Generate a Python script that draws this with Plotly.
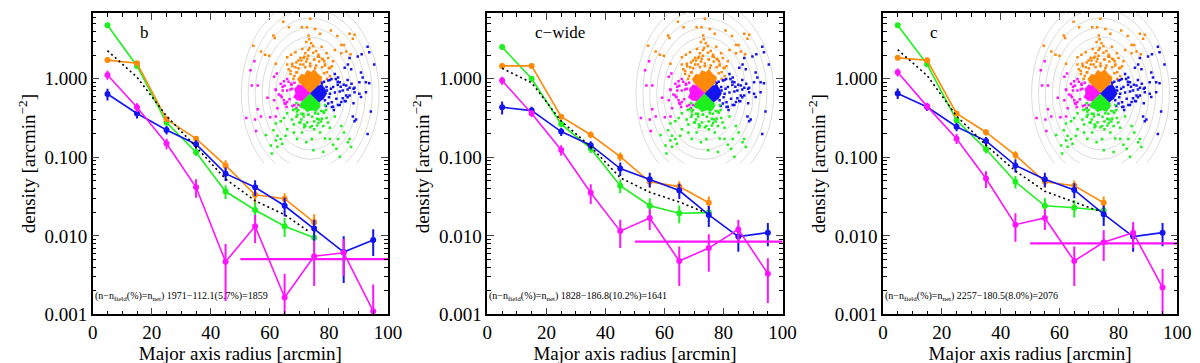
import plotly.graph_objects as go

# radial bins (major axis radius, arcmin)
radius = [5, 15, 25, 35, 45, 55, 65, 75, 85, 95]
radius_short = [5, 15, 25, 35, 45, 55, 65, 75]
radius_dotted = [5, 15, 25, 35, 45, 55, 65, 73]

panel_labels = ["b", "c\u2212wide", "c"]
count_texts = [
    "(n\u2212n<sub>field</sub>(%)=n<sub>net</sub>) 1971\u2212112.1(5.7%)=1859",
    "(n\u2212n<sub>field</sub>(%)=n<sub>net</sub>) 1828\u2212186.8(10.2%)=1641",
    "(n\u2212n<sub>field</sub>(%)=n<sub>net</sub>) 2257\u2212180.5(8.0%)=2076",
]

# panel b
b_green = [4.8, 1.46, 0.277, 0.116, 0.0367, 0.0214, 0.0133, 0.0095]
b_green_err = [0.19, 0.073, 0.022, 0.012, 0.0073, 0.0058, 0.0036, 0.0032]
b_orange = [1.73, 1.58, 0.305, 0.173, 0.079, 0.0334, 0.0298, 0.0149]
b_orange_err = [0.12, 0.08, 0.018, 0.014, 0.013, 0.0067, 0.005, 0.004]
b_blue = [0.64, 0.362, 0.223, 0.147, 0.062, 0.0416, 0.0242, 0.0124, 0.00622, 0.00884]
b_blue_err = [0.11, 0.05, 0.027, 0.018, 0.012, 0.0095, 0.0065, 0.0037, 0.0037, 0.0033]
b_magenta = [1.12, 0.434, 0.150, 0.0416, 0.00468, 0.0133, 0.00164, 0.0055, 0.0061, 0.0011]
b_magenta_err = [0.15, 0.055, 0.023, 0.011, 0.0032, 0.0052, 0.00165, 0.0032, 0.003, 0.0013]
b_mean = [2.28, 1.05, 0.336, 0.136, 0.053, 0.028, 0.0186, 0.0115]
b_field = 0.00505

# panel c-wide
cw_green = [2.54, 1.0, 0.265, 0.13, 0.0436, 0.0242, 0.0194, 0.0198]
cw_green_err = [0.13, 0.06, 0.021, 0.016, 0.0087, 0.006, 0.0049, 0.005]
cw_orange = [1.46, 1.46, 0.33, 0.194, 0.102, 0.0489, 0.0424, 0.0264]
cw_orange_err = [0.12, 0.073, 0.023, 0.019, 0.013, 0.0083, 0.0072, 0.0053]
cw_blue = [0.434, 0.394, 0.213, 0.143, 0.072, 0.0527, 0.0378, 0.0185, 0.0098, 0.011]
cw_blue_err = [0.082, 0.047, 0.026, 0.017, 0.014, 0.011, 0.0083, 0.0055, 0.0035, 0.0036]
cw_magenta = [0.95, 0.362, 0.124, 0.0354, 0.0115, 0.0169, 0.0048, 0.0070, 0.0121, 0.0033]
cw_magenta_err = [0.11, 0.036, 0.019, 0.010, 0.0045, 0.005, 0.0025, 0.0035, 0.004, 0.0019]
cw_mean = [1.36, 0.89, 0.29, 0.137, 0.055, 0.036, 0.027, 0.0204]
cw_field = 0.00843

# panel c
c_green = [4.8, 1.53, 0.297, 0.127, 0.0489, 0.0242, 0.0228, 0.021]
c_green_err = [0.19, 0.077, 0.024, 0.015, 0.0088, 0.006, 0.0057, 0.0052]
c_orange = [1.85, 1.72, 0.362, 0.209, 0.107, 0.0489, 0.0436, 0.0264]
c_orange_err = [0.1, 0.08, 0.025, 0.019, 0.013, 0.008, 0.0072, 0.0053]
c_blue = [0.652, 0.438, 0.245, 0.162, 0.079, 0.0527, 0.0385, 0.0189, 0.0098, 0.011]
c_blue_err = [0.1, 0.05, 0.03, 0.02, 0.015, 0.011, 0.0083, 0.0055, 0.0035, 0.0036]
c_magenta = [1.21, 0.446, 0.173, 0.0537, 0.0139, 0.0169, 0.0048, 0.0083, 0.011, 0.0022]
c_magenta_err = [0.14, 0.05, 0.025, 0.013, 0.0055, 0.005, 0.0025, 0.0035, 0.004, 0.0016]
c_mean = [2.35, 1.1, 0.336, 0.143, 0.067, 0.037, 0.027, 0.021]
c_field = 0.00804

# inset sky map (offsets from cluster centre, same map used in every panel)
orange_x = [-27.4, -21.7, -37.4, -36, -57.7, -50, -45.7, -41.7, -35, -23.4, -19.4, -15, -18.4,
            -3.4, -8.4, -1.7, -4, -0.7, -23.4, -20, -13.4, -10, -6.7, -5,
            0, 5, 10, 21, 27.6, 31.6, 34.3, 40, 45, 43.3, 36.6, 41, 31.6, 25, 16.6, 18.3,
            11.6, 8.3, 14.3, 23.3, 20, -1, 1, 3, -2, 6, -8, 9, 12, -12, 4, -4, 15, -15, 22, -22,
            -18, -14, -9, -3, 4, 9, 15, 19, -20, 20, -16, 17, -7, 6, -12, 12, 0, -2, 3, -6, 8,
            -10, 13, -14, 14, -5, 5, 0, -17, 17]
orange_y = [74, 68.3, 60, 57.3, 49.3, 43.3, 40, 39, 30.7, 37.3, 40, 42.6, 30.7,
            68.3, 68.3, 60, 53.3, 46.6, 30, 23.3, 21.6, 30, 36.6, 41.6,
            77.3, 66.6, 61.6, 65, 59.3, 50, 50, 61.6, 60.6, 56.6, 43.3, 40.6, 41.6, 45, 41.6, 36.6,
            48.3, 40, 33.3, 33.3, 26.6, 56, 52, 49, 45, 44, 46, 38, 36, 34, 35, 33, 29, 27, 28, 25,
            28, 32, 34, 36, 35, 33, 30, 26, 20, 18, 18, 22, 30, 29, 26, 27, 31, 39, 42, 38, 38,
            37, 35, 22, 21, 27, 26, 28, 15, 15]
blue_x = [58.3, 60, 52.3, 65, 48.3, 40, 38.3, 35, 41.6, 51.6, 53.3, 50, 56.6, 60, 25, 28.3, 30,
          36.6, 40, 21.6, 18.3, 16.6, 11.6, 23.3, 45, 50, 56.6, 51.6, 36.6, 31.6, 28.3, 23.3,
          35, 43.3, 45, 46.6, 61.6, 58.3, 18.3, 15, 26.6, 20, 33, 38, 28, 12, 44, 30, 22, 17,
          28, 34, 38, 40, 36, 30, 22, 16, 26, 20, 14, 33, 42, 45, 38, 24, 44, 21, 19, 25, 31]
blue_y = [48.3, 42.6, 40.6, 30, 38.3, 36.6, 30, 26.6, 25, 21.6, 16.6, 11.6, 11.6, 10.6, 20, 16.6,
          11.6, 8.3, 6, 15, 13.3, 6.6, 8.3, 6.6, 1.3, -0.4, 1.3, -3.7, -2, -8.7, -12, -13.7,
          -7.7, -23.7, -28.7, -27, -18.7, -42, -10.4, -7, -5.4, -0.4, 3, -4, 9, 11, 5, 2, -9, 3,
          12, 9, 4, -2, -8, -12, -14, -13, 15, 14, 12, -5, 10, 6, 14, -17, -10, 5, -4, 1, 7]
magenta_x = [-56.7, -60.7, -59.4, -53.4, -34, -36.7, -26.7, -23.4, -19.4, -18.4, -35,
             -35, -43.4, -36.7, -26.7, -23.4, -53.4, -50, -65, -56, -40.7, -35, -33.4, -55,
             -23.4, -28, -30, -16, -25,
             -26, -28, -29, -26, -18, -12, -16, -22, -30, -32, -14, -24, -20, -21, -19]
magenta_y = [33.3, 24, 8.3, 8.3, 20.6, 17.3, 12.6, 15, 10, 5, 4,
             3.6, -4.4, -7, -7, -8.7, -16.4, -23.7, -25.4, -27, -24.7, -23.7, -15.4, -38.7,
             3, 7, -2, -12, -11,
             8, 3, -4, -10, -13, -12, 11, 12, 10, -1, -15, -14, 4, -6, 9]
green_x = [-26.7, -23.4, -18.4, -16.7, -30, -35, -37.4, -45, -33.4, -30, -25, -35, -40, -33.4,
           -39, -28.4, -23.4, -13.4, -8.4, -4, -10, -5, -16.7, -6.7, -13.4, -17.4,
           3.3, 5, 13.3, 16.6, 25, 8.3, 1.6, 13.3, 20, 10, 15, 1.6, 20, 23.3, 26.6, 13.3,
           38.3, 40, 41.6, 31.6, 34.3, 30, 3.3, 28.3, -2, 7, -9, 11, 18, -14, 4, -6,
           -14, -15, -13, -9, -3, 4, 9, 14, 15, 12, -6, 0, 7, -11, 16, -2, 2, -7, 8, -12, 11]
green_y = [-25.4, -20.4, -27, -32, -28.7, -31, -38, -43, -43.7, -47, -43.7, -48.7, -53.7, -55,
           -62, -52, -37, -47, -40.4, -50.4, -30, -33.7, -40.4, -23.7, -18.7, -17,
           -15.4, -20.4, -18.7, -25.4, -23.7, -30.4, -33.7, -33.7, -35.4, -40.4, -46.4, -47, -47,
           -53, -57, -60.4, -50.4, -47, -55.4, -33.7, -40.4, -65.4, -58.7, -47,
           -22, -26, -21, -29, -30, -24, -37, -35,
           -10, -16, -22, -27, -30, -29, -27, -20, -12, -26, -32, -35, -33, -30, -17,
           -22, -24, -21, -21, -17, -18]

# dense central wedges of the map (quadrants of a diamond around the centre)
orange_core_x = [0, -11, -13, -9, -6, -3, 1, 4, 8, 12, 11, 0]
orange_core_y = [0, 11, 15, 20, 19, 24, 22, 25, 20, 17, 11, 0]
magenta_core_x = [0, -8, -12, -16, -15, -17, -13, -8, 0]
magenta_core_y = [0, 8, 9, 5, 0, -4, -7, -8, 0]
green_core_x = [0, -10, -11, -6, -3, 2, 6, 10, 10, 0]
green_core_y = [0, -10, -14, -16, -19, -17, -19, -14, -10, 0]
blue_core_x = [0, 8, 12, 15, 17, 14, 9, 0]
blue_core_y = [0, 8, 9, 5, 0, -5, -9, 0]

ellipse_minor = [7, 14, 21, 28, 35, 42, 49, 56, 63, 70]
ellipse_ratio = 0.72

GREEN = "#1ef01e"
ORANGE = "#ff8a0a"
BLUE = "#1414f0"
MAGENTA = "#ff14ff"
FONT = "Liberation Serif"

panels = [
    dict(green=b_green, green_err=b_green_err, orange=b_orange, orange_err=b_orange_err,
         blue=b_blue, blue_err=b_blue_err, magenta=b_magenta, magenta_err=b_magenta_err,
         mean=b_mean, field=b_field),
    dict(green=cw_green, green_err=cw_green_err, orange=cw_orange, orange_err=cw_orange_err,
         blue=cw_blue, blue_err=cw_blue_err, magenta=cw_magenta, magenta_err=cw_magenta_err,
         mean=cw_mean, field=cw_field),
    dict(green=c_green, green_err=c_green_err, orange=c_orange, orange_err=c_orange_err,
         blue=c_blue, blue_err=c_blue_err, magenta=c_magenta, magenta_err=c_magenta_err,
         mean=c_mean, field=c_field),
]

W, H = 1200, 363
main_x_px = [(81, 381), (482, 782), (884, 1183)]
inset_x_px = [(230, 375), (631, 776), (1033, 1178)]
main_y_dom = [1 - 316 / H, 1 - 5 / H]
inset_y_dom = [1 - 160 / H, 1 - 5 / H]

minor_y = [m * 10 ** e for e in range(-3, 1) for m in range(2, 10)]

fig = go.Figure()
layout = dict(width=W, height=H, margin=dict(l=0, r=0, t=0, b=0),
              paper_bgcolor="white", plot_bgcolor="rgba(0,0,0,0)",
              showlegend=False, font=dict(family=FONT, color="black"))
shapes = []
annotations = []


def series(xs, ys, err, color, xa, ya):
    return go.Scatter(x=xs, y=ys, xaxis=xa, yaxis=ya, mode="lines+markers",
                      line=dict(color=color, width=1.6),
                      marker=dict(color=color, size=6),
                      error_y=dict(type="data", array=err, visible=True,
                                   color=color, thickness=2, width=0),
                      hoverinfo="skip")


for i, p in enumerate(panels):
    n = i + 1
    xa, ya = "x" if n == 1 else f"x{n}", "y" if n == 1 else f"y{n}"
    ia, ib = f"x{n + 3}", f"y{n + 3}"

    # inset map
    for cx, cy, col in [(orange_core_x, orange_core_y, ORANGE), (magenta_core_x, magenta_core_y, MAGENTA),
                        (green_core_x, green_core_y, GREEN), (blue_core_x, blue_core_y, BLUE)]:
        fig.add_trace(go.Scatter(x=cx, y=cy, xaxis=ia, yaxis=ib, mode="lines", fill="toself",
                                 fillcolor=col, line=dict(color=col, width=0.5), hoverinfo="skip"))
    for px, py, col in [(orange_x, orange_y, ORANGE), (blue_x, blue_y, BLUE),
                        (magenta_x, magenta_y, MAGENTA), (green_x, green_y, GREEN)]:
        fig.add_trace(go.Scatter(x=px, y=py, xaxis=ia, yaxis=ib, mode="markers",
                                 marker=dict(color=col, size=2.5, symbol="square"), hoverinfo="skip"))
    for a in ellipse_minor:
        b = a / ellipse_ratio
        shapes.append(dict(type="circle", xref=ia, yref=ib, x0=-a, x1=a, y0=-b, y1=b,
                           line=dict(color="#dcdcdc", width=1), layer="below"))

    # profiles
    fig.add_trace(series(radius_short, p["green"], p["green_err"], GREEN, xa, ya))
    fig.add_trace(series(radius_short, p["orange"], p["orange_err"], ORANGE, xa, ya))
    fig.add_trace(series(radius, p["blue"], p["blue_err"], BLUE, xa, ya))
    fig.add_trace(series(radius, p["magenta"], p["magenta_err"], MAGENTA, xa, ya))
    fig.add_trace(go.Scatter(x=radius_dotted, y=p["mean"], xaxis=xa, yaxis=ya, mode="lines",
                             line=dict(color="black", width=1.6, dash="2px,3px"), hoverinfo="skip"))
    fig.add_trace(go.Scatter(x=[50, 100], y=[p["field"], p["field"]], xaxis=xa, yaxis=ya,
                             mode="lines", line=dict(color=MAGENTA, width=2.2), hoverinfo="skip"))

    x0, x1 = main_x_px[i]
    layout["xaxis" + ("" if n == 1 else str(n))] = dict(
        domain=[x0 / W, x1 / W], anchor=ya, range=[0, 100], dtick=20, tick0=0,
        ticks="inside", ticklen=7, tickwidth=1, mirror="ticks", showline=True,
        linecolor="black", linewidth=1.5, showgrid=False, zeroline=False,
        tickfont=dict(size=19, family=FONT),
        title=dict(text="Major axis radius [arcmin]", font=dict(size=19, family=FONT), standoff=2),
        minor=dict(dtick=5, ticks="inside", ticklen=4, tickcolor="black", showgrid=False))
    layout["yaxis" + ("" if n == 1 else str(n))] = dict(
        domain=main_y_dom, anchor=xa, type="log", range=[-3, 0.84],
        tickvals=[0.001, 0.01, 0.1, 1], ticktext=["0.001", "0.010", "0.100", "1.000"],
        ticks="inside", ticklen=7, tickwidth=1, mirror="ticks", showline=True,
        linecolor="black", linewidth=1.5, showgrid=False, zeroline=False,
        tickfont=dict(size=19, family=FONT),
        title=dict(text="density [arcmin<sup>\u22122</sup>]", font=dict(size=19, family=FONT), standoff=4),
        minor=dict(tickvals=minor_y, ticks="inside", ticklen=4, tickcolor="black", showgrid=False))

    ix0, ix1 = inset_x_px[i]
    layout[f"xaxis{n + 3}"] = dict(domain=[ix0 / W, ix1 / W], anchor=ib, range=[-72, 73],
                                   visible=False, fixedrange=True)
    layout[f"yaxis{n + 3}"] = dict(domain=inset_y_dom, anchor=ia, range=[-72, 83.3],
                                   visible=False, fixedrange=True)

    annotations.append(dict(text=panel_labels[i], xref=f"{xa} domain", yref=f"{ya} domain",
                            x=0.153, y=0.936, xanchor="left", yanchor="middle", showarrow=False,
                            font=dict(size=17, family=FONT)))
    annotations.append(dict(text=count_texts[i], xref=f"{xa} domain", yref=f"{ya} domain",
                            x=0.0, y=0.06, xanchor="left", yanchor="middle", showarrow=False,
                            font=dict(size=10, family=FONT)))

layout["shapes"] = shapes
layout["annotations"] = annotations
fig.update_layout(**layout)
fig.write_html("out.html")
